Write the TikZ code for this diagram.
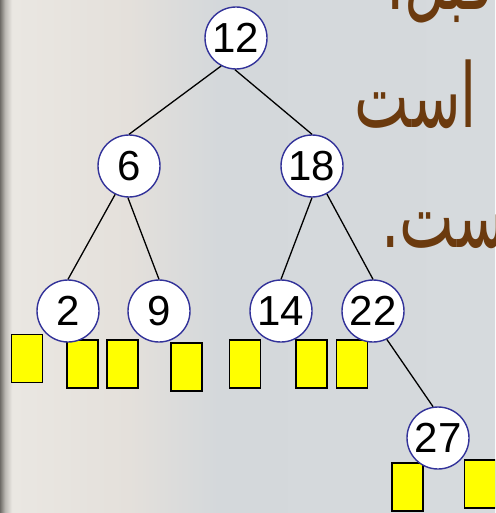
\documentclass[tikz,border=0pt]{standalone}
\usepackage{fontspec}
\setmainfont{Liberation Sans}
\newfontfamily\arabicfont[Script=Arabic]{DejaVu Sans}
\TeXXeTstate=1
\definecolor{nodeblue}{HTML}{33339A}
\definecolor{textbrown}{HTML}{6B3A0E}
\definecolor{boxyellow}{HTML}{FFFF00}
\definecolor{rimdark}{HTML}{6E6B67}
\definecolor{rimmid}{HTML}{B9B6B1}
\definecolor{warmbg}{HTML}{EAE7E2}
\definecolor{warmbgb}{HTML}{E4E0DB}
\definecolor{coolbg}{HTML}{D4D8DB}
\definecolor{coolbgb}{HTML}{D6DADD}
% slide background: dark left rim, warm beige fading into cool grey
\pgfdeclarehorizontalshading{slidebg}{100bp}{%
  color(0bp)=(rimdark);
  color(25bp)=(rimdark);
  color(25.5bp)=(rimmid);
  color(26.2bp)=(warmbg);
  color(38bp)=(warmbgb);
  color(47bp)=(coolbg);
  color(75bp)=(coolbgb);
  color(100bp)=(coolbgb)}
\tikzset{
  keynode/.style={circle, draw=nodeblue, line width=1.4pt, fill=white,
    minimum size=62pt, inner sep=0pt, text=black,
    font=\fontsize{42}{42}\selectfont},
  leafbox/.style={rectangle, draw=black, line width=1.8pt, fill=boxyellow,
    minimum width=31pt, minimum height=48pt, inner sep=0pt},
  branch/.style={draw=black, line width=1.3pt},
  slidetext/.style={text=textbrown, inner sep=0pt,
    font=\arabicfont\fontsize{66}{66}\selectfont}
}
\newcommand{\keyval}[1]{\raisebox{-2pt}{#1}}
\newcommand{\slideword}[1]{\scalebox{0.88}[1.35]{\beginR #1\endR}}
\begin{document}
\begin{tikzpicture}[x=1pt,y=-1pt]
  \useasboundingbox (0,0) rectangle (495,513);
  \begin{scope}
    \clip (0,0) rectangle (495,513);
    \shade[shading=slidebg] (0,0) rectangle (495,513);

    % slide text behind the tree
    \node[slidetext, anchor=base east] (t1) at (494,10) {\slideword{قبل.}};
    \node[slidetext, anchor=base east] (t2) at (477,128) {\slideword{است}};
    \node[slidetext, anchor=base east] (t3) at (522,247) {\slideword{است.}};

    % empty subtrees
    \node[leafbox] (b1) at (27,358.5) {};
    \node[leafbox] (b2) at (82.5,364) {};
    \node[leafbox] (b3) at (122.5,364) {};
    \node[leafbox] (b4) at (186.5,367) {};
    \node[leafbox] (b5) at (245,364) {};
    \node[leafbox] (b6) at (311.5,364) {};
    \node[leafbox] (b7) at (352,364) {};
    \node[leafbox] (b8) at (407.5,487) {};
    \node[leafbox] (b9) at (480,484) {};

    % keys
    \node[keynode] (n12) at (236,38) {\keyval{12}};
    \node[keynode] (n6)  at (129,166) {\keyval{6}};
    \node[keynode] (n18) at (312,166) {\keyval{18}};
    \node[keynode] (n2)  at (68,311) {\keyval{2}};
    \node[keynode] (n9)  at (159,311) {\keyval{9}};
    \node[keynode] (n14) at (281,311) {\keyval{14}};
    \node[keynode] (n22) at (373,311) {\keyval{22}};
    \node[keynode] (n27) at (438,438) {\keyval{27}};

    % branches
    \path[branch] (n12.242) -- (n6.north);
    \path[branch] (n12.268) -- (n18.north);
    \path[branch] (n6.244) -- (n2.north);
    \path[branch] (n6.268) -- (n9.north);
    \path[branch] (n18.270) -- (n14.north);
    \path[branch] (n18.298) -- (n22.north);
    \path[branch] (n22.296) -- (n27.99);
  \end{scope}
\end{tikzpicture}
\end{document}
